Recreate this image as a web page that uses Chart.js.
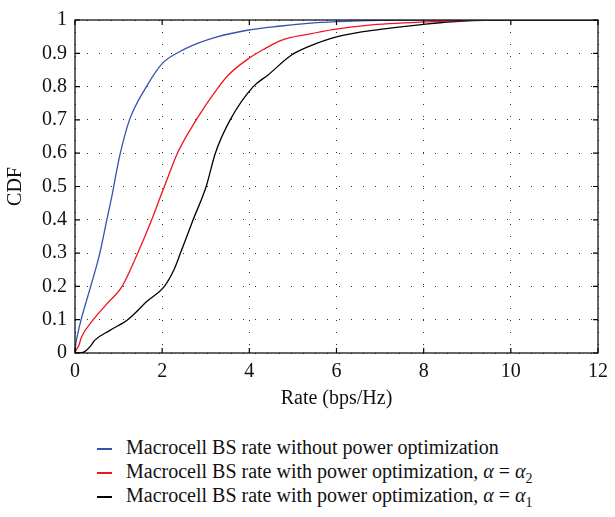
<!DOCTYPE html>
<html>
<head>
<meta charset="utf-8">
<script src="https://cdn.jsdelivr.net/npm/chart.js@4.4.1/dist/chart.umd.min.js"></script>
<style>
body{margin:0;background:#fff;}
#wrap{position:relative;width:615px;height:517px;background:#fff;}
#legend{position:absolute;left:97px;top:435px;font-family:"Liberation Serif","DejaVu Serif",serif;font-size:20px;color:#111;}
.row{height:24px;line-height:24px;white-space:nowrap;}
.sw{display:inline-block;width:15px;height:2px;vertical-align:middle;margin-right:14px;}
sub{font-size:14px;}
</style>
</head>
<body>
<div id="wrap">
<canvas id="cdf" width="615" height="415"></canvas>
<div id="legend"></div>
</div>
<script>
// series (rate, cdf)
const blue_x=[0,0.02,0.05,0.14,0.36,0.57,0.73,0.86,0.93,1.04,1.25,1.64,2.0,2.39,2.84,3.22,3.98,4.73,5.34,6.0,7.0,8,12];
const blue_y=[0,0.03,0.05,0.10,0.20,0.30,0.40,0.48,0.53,0.60,0.70,0.80,0.869,0.904,0.931,0.948,0.970,0.982,0.990,0.995,0.999,1,1];
const red_x=[0,0.03,0.08,0.15,0.42,0.72,1.08,1.44,1.76,1.99,2.08,2.35,2.78,3.3,3.52,3.98,4.36,4.73,5.34,5.95,6.7,8.0,9.5,12];
const red_y=[0,0.01,0.02,0.048,0.10,0.146,0.20,0.30,0.40,0.48,0.51,0.60,0.70,0.80,0.835,0.884,0.914,0.939,0.957,0.972,0.984,0.994,1,1];
const black_x=[0,0.1,0.23,0.35,0.45,0.8,1.21,1.66,2.05,2.27,2.42,2.71,3.01,3.22,3.56,4.09,4.43,4.96,5.34,6.02,7.0,8.0,8.9,10,12];
const black_y=[0,0,0.005,0.02,0.038,0.068,0.10,0.156,0.20,0.25,0.30,0.40,0.50,0.60,0.70,0.80,0.835,0.894,0.919,0.95,0.972,0.987,0.997,1,1];
const x_ticks=[0,2,4,6,8,10,12];
const y_ticks=[0,0.1,0.2,0.3,0.4,0.5,0.6,0.7,0.8,0.9,1];
const names=['Macrocell BS rate without power optimization','Macrocell BS rate with power optimization, <i>α</i> = <i>α</i><sub>2</sub>','Macrocell BS rate with power optimization, <i>α</i> = <i>α</i><sub>1</sub>'];
const colors=['#3552b0','#f0141e','#000000'];

function pts(xs,ys){return xs.map((x,i)=>({x:x,y:ys[i]}));}

const serif='"Liberation Serif","DejaVu Serif",serif';

// box around the axes and inward tick marks, like matlab
const boxPlugin={
  id:'box',
  afterDraw(chart){
    const c=chart.ctx,a=chart.chartArea,sx=chart.scales.x,sy=chart.scales.y;
    c.save();
    c.strokeStyle='#000';c.lineWidth=1.2;
    c.strokeRect(a.left,a.top,a.right-a.left,a.bottom-a.top);
    c.beginPath();
    x_ticks.forEach(v=>{
      const p=sx.getPixelForValue(v);
      c.moveTo(p,a.bottom);c.lineTo(p,a.bottom-5);
      c.moveTo(p,a.top);c.lineTo(p,a.top+5);
    });
    y_ticks.forEach(v=>{
      const p=sy.getPixelForValue(v);
      c.moveTo(a.left,p);c.lineTo(a.left+5,p);
      c.moveTo(a.right,p);c.lineTo(a.right-5,p);
    });
    c.stroke();
    c.restore();
  }
};

const sets=[[blue_x,blue_y],[red_x,red_y],[black_x,black_y]];
new Chart(document.getElementById('cdf'),{
  type:'line',
  data:{datasets:sets.map((s,i)=>({
    label:names[i],
    data:pts(s[0],s[1]),
    borderColor:colors[i],
    borderWidth:1.3,
    pointRadius:0,
    fill:false,
    cubicInterpolationMode:'monotone'
  }))},
  options:{
    responsive:false,
    animation:false,
    layout:{padding:{top:14,right:11,left:0,bottom:0}},
    plugins:{legend:{display:false},tooltip:{enabled:false}},
    scales:{
      x:{
        type:'linear',min:0,max:12,
        border:{display:false,dash:[1,11]},
        afterBuildTicks:s=>{s.ticks=x_ticks.map(v=>({value:v}));},
        afterFit:s=>{s.height=62;},
        grid:{color:'#333',lineWidth:1,drawTicks:false},
        ticks:{padding:7,color:'#111',font:{family:serif,size:20},maxRotation:0},
        title:{display:true,text:'Rate (bps/Hz)',color:'#111',font:{family:serif,size:20},padding:{top:1}}
      },
      y:{
        type:'linear',min:0,max:1,
        border:{display:false,dash:[1,11]},
        afterBuildTicks:s=>{s.ticks=y_ticks.map(v=>({value:v}));},
        afterFit:s=>{s.width=75;},
        grid:{color:'#333',lineWidth:1,drawTicks:false},
        ticks:{padding:8,color:'#111',font:{family:serif,size:20},callback:v=>String(Math.round(v*10)/10)},
        title:{display:true,text:'CDF',color:'#111',font:{family:serif,size:20},padding:{top:4,bottom:0}}
      }
    }
  },
  plugins:[boxPlugin]
});

// legend below the plot
const lg=document.getElementById('legend');
names.forEach((n,i)=>{
  const r=document.createElement('div');r.className='row';
  r.innerHTML='<span class="sw" style="background:'+colors[i]+'"></span>'+n;
  lg.appendChild(r);
});
</script>
</body>
</html>
